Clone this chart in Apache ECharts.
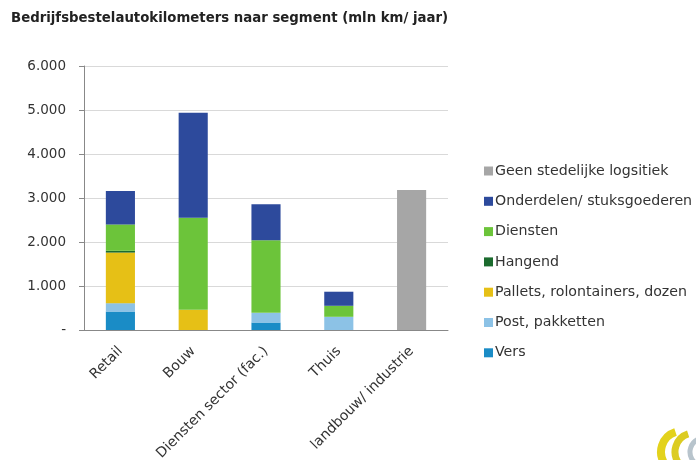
<!DOCTYPE html>
<html><head><meta charset="utf-8">
<script src="https://cdn.jsdelivr.net/npm/echarts@6/dist/echarts.min.js"></script>
<style>html,body{margin:0;padding:0;background:#fff}#c{width:696px;height:460px}</style>
</head><body><div id="c"></div>
<script>
const categories = ['Retail', 'Bouw', 'Diensten sector (fac.)', 'Thuis', 'landbouw/ industrie'];
const vers       = [420, 0, 170, 0, 0];
const post       = [190, 0, 220, 300, 0];
const pallets    = [1150, 460, 0, 0, 0];
const hangend    = [40, 0, 0, 0, 0];
const diensten   = [600, 2090, 1650, 250, 0];
const onderdelen = [760, 2390, 820, 320, 0];
const geen       = [0, 0, 0, 0, 3180];
const yTicks = ['-', '1.000', '2.000', '3.000', '4.000', '5.000', '6.000'];

const font = 'DejaVu Sans';
function s(name, data, color) {
  return { name, type: 'bar', stack: 'a', data, barCategoryGap: '60%',
    itemStyle: { color }, emphasis: { disabled: true } };
}
const chart = echarts.init(document.getElementById('c'), null, { renderer: 'canvas' });
chart.setOption({
  animation: false,
  textStyle: { fontFamily: font },
  title: { text: 'Bedrijfsbestelautokilometers naar segment (mln km/ jaar)', left: 6, top: 7,
    textStyle: { fontSize: 13.3, fontWeight: 'bold', color: '#222', fontFamily: font } },
  grid: { left: 84, right: 248, top: 66, bottom: 130, containLabel: false, outerBoundsMode: 'none' },
  legend: { orient: 'vertical', left: 479, top: 159, itemWidth: 9, itemHeight: 9, itemGap: 16.3,
    icon: 'rect', textStyle: { fontSize: 14.2, color: '#333', fontFamily: font, padding: [0,0,0,-3] },
    data: ['Geen stedelijke logsitiek', 'Onderdelen/ stuksgoederen', 'Diensten', 'Hangend',
           'Pallets, rolontainers, dozen', 'Post, pakketten', 'Vers'] },
  xAxis: { type: 'category', data: categories,
    axisLine: { lineStyle: { color: '#888' } },
    axisTick: { length: 5, lineStyle: { color: '#888' } },
    axisLabel: { rotate: 45, fontSize: 14, color: '#333', margin: 19, interval: 0 } },
  yAxis: { type: 'value', min: 0, max: 6000, interval: 1000,
    axisLine: { show: true, lineStyle: { color: '#888' } },
    axisTick: { show: true, inside: false, length: 5, lineStyle: { color: '#888' } },
    splitLine: { lineStyle: { color: '#d9d9d9' } },
    axisLabel: { fontSize: 13.5, color: '#333', margin: 18,
      formatter: v => yTicks[Math.round(v / 1000)] } },
  series: [
    s('Vers', vers, '#1a8cc6'),
    s('Post, pakketten', post, '#8cc2e6'),
    s('Pallets, rolontainers, dozen', pallets, '#e6c016'),
    s('Hangend', hangend, '#1b6b2e'),
    s('Diensten', diensten, '#6cc43a'),
    s('Onderdelen/ stuksgoederen', onderdelen, '#2d4a9c'),
    s('Geen stedelijke logsitiek', geen, '#a6a6a6')
  ],
  graphic: [
    { type: 'arc', shape: { cx: 682, cy: 452, r: 21, startAngle: Math.PI * 0.6, endAngle: Math.PI * 1.4 },
      style: { stroke: '#e3d21c', lineWidth: 8, fill: null } },
    { type: 'arc', shape: { cx: 694, cy: 452, r: 19, startAngle: Math.PI * 0.6, endAngle: Math.PI * 1.4 },
      style: { stroke: '#dccc22', lineWidth: 7, fill: null } },
    { type: 'arc', shape: { cx: 704, cy: 452, r: 14, startAngle: Math.PI * 0.6, endAngle: Math.PI * 1.4 },
      style: { stroke: '#b8c4cc', lineWidth: 5, fill: null } }
  ]
});
</script></body></html>
